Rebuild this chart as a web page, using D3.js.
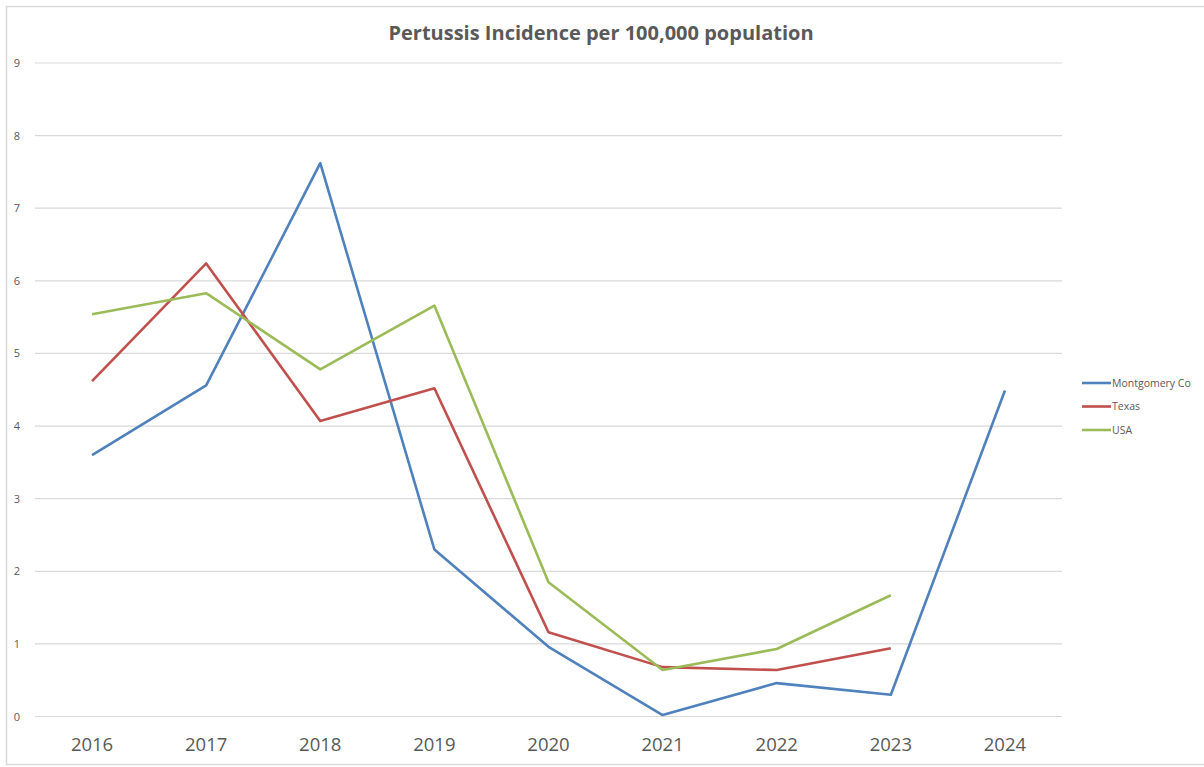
<!DOCTYPE html>
<html>
<head>
<meta charset="utf-8">
<script src="https://cdn.jsdelivr.net/npm/d3@7"></script>
<style>
  body { margin: 0; background: #fff; }
  svg { display: block; }
</style>
</head>
<body>
<svg id="chart" width="1204" height="767"></svg>
<script>
// data
var years = ["2016", "2017", "2018", "2019", "2020", "2021", "2022", "2023", "2024"];
var montgomery = [3.60, 4.56, 7.62, 2.30, 0.96, 0.02, 0.46, 0.30, 4.49];
var texas = [4.62, 6.24, 4.07, 4.52, 1.16, 0.68, 0.64, 0.94, null];
var usa = [5.54, 5.83, 4.78, 5.66, 1.85, 0.64, 0.93, 1.67, null];
var seriesNames = ["Montgomery Co", "Texas", "USA"];
var yTicks = [0, 1, 2, 3, 4, 5, 6, 7, 8, 9];

var series = [
    { name: seriesNames[0], values: montgomery, color: "#4f81bd" },
    { name: seriesNames[1], values: texas, color: "#c0504d" },
    { name: seriesNames[2], values: usa, color: "#9bbb59" }
];

var svg = d3.select("#chart");

// chart frame
svg.append("rect")
    .attr("x", 6.5).attr("y", 6.5)
    .attr("width", 1204).attr("height", 758)
    .attr("fill", "none")
    .attr("stroke", "#d9d9d9")
    .attr("stroke-width", 1.5);

var plot = { left: 35, right: 1062, top: 63, bottom: 716.5 };

var x = d3.scaleBand()
    .domain(years)
    .range([plot.left, plot.right]);

var y = d3.scaleLinear()
    .domain([0, 9])
    .range([plot.bottom, plot.top]);

// gridlines
svg.selectAll(".grid")
    .data(yTicks)
    .enter()
    .append("line")
    .attr("class", "grid")
    .attr("x1", plot.left)
    .attr("x2", plot.right)
    .attr("y1", function(d) { return y(d); })
    .attr("y2", function(d) { return y(d); })
    .attr("stroke", "#d9d9d9")
    .attr("stroke-width", 1.2);

// y labels
svg.selectAll(".ylab")
    .data(yTicks)
    .enter()
    .append("text")
    .attr("class", "ylab")
    .attr("x", 17)
    .attr("y", function(d) { return y(d) + 4; })
    .attr("text-anchor", "middle")
    .attr("fill", "#595959")
    .style("font-family", "Open Sans, sans-serif")
    .style("font-size", "11px")
    .text(function(d) { return d; });

// x labels
svg.selectAll(".xlab")
    .data(years)
    .enter()
    .append("text")
    .attr("class", "xlab")
    .attr("x", function(d) { return x(d) + x.bandwidth() / 2; })
    .attr("y", 751)
    .attr("text-anchor", "middle")
    .attr("fill", "#595959")
    .style("font-family", "Open Sans, sans-serif")
    .style("font-size", "18.5px")
    .text(function(d) { return d; });

// lines
var line = d3.line()
    .defined(function(d) { return d != null; })
    .x(function(d, i) { return x(years[i]) + x.bandwidth() / 2; })
    .y(function(d) { return y(d); });

svg.selectAll(".series")
    .data(series)
    .enter()
    .append("path")
    .attr("class", "series")
    .attr("fill", "none")
    .attr("stroke", function(d) { return d.color; })
    .attr("stroke-width", 2.6)
    .attr("stroke-linejoin", "round")
    .attr("d", function(d) { return line(d.values); });

// title
svg.append("text")
    .attr("x", 601)
    .attr("y", 40)
    .attr("text-anchor", "middle")
    .attr("fill", "#595959")
    .style("font-family", "Open Sans, sans-serif")
    .style("font-weight", "bold")
    .style("font-size", "20px")
    .text("Pertussis Incidence per 100,000 population");

// legend
var legend = svg.selectAll(".legend")
    .data(series)
    .enter()
    .append("g")
    .attr("class", "legend")
    .attr("transform", function(d, i) { return "translate(1082," + (383 + i * 23.5) + ")"; });

legend.append("line")
    .attr("x1", 0).attr("x2", 29)
    .attr("stroke", function(d) { return d.color; })
    .attr("stroke-width", 2.6);

legend.append("text")
    .attr("x", 30)
    .attr("y", 3.5)
    .attr("fill", "#595959")
    .style("font-family", "Open Sans, sans-serif")
    .style("font-size", "10.5px")
    .text(function(d) { return d.name; });
</script>
</body>
</html>
